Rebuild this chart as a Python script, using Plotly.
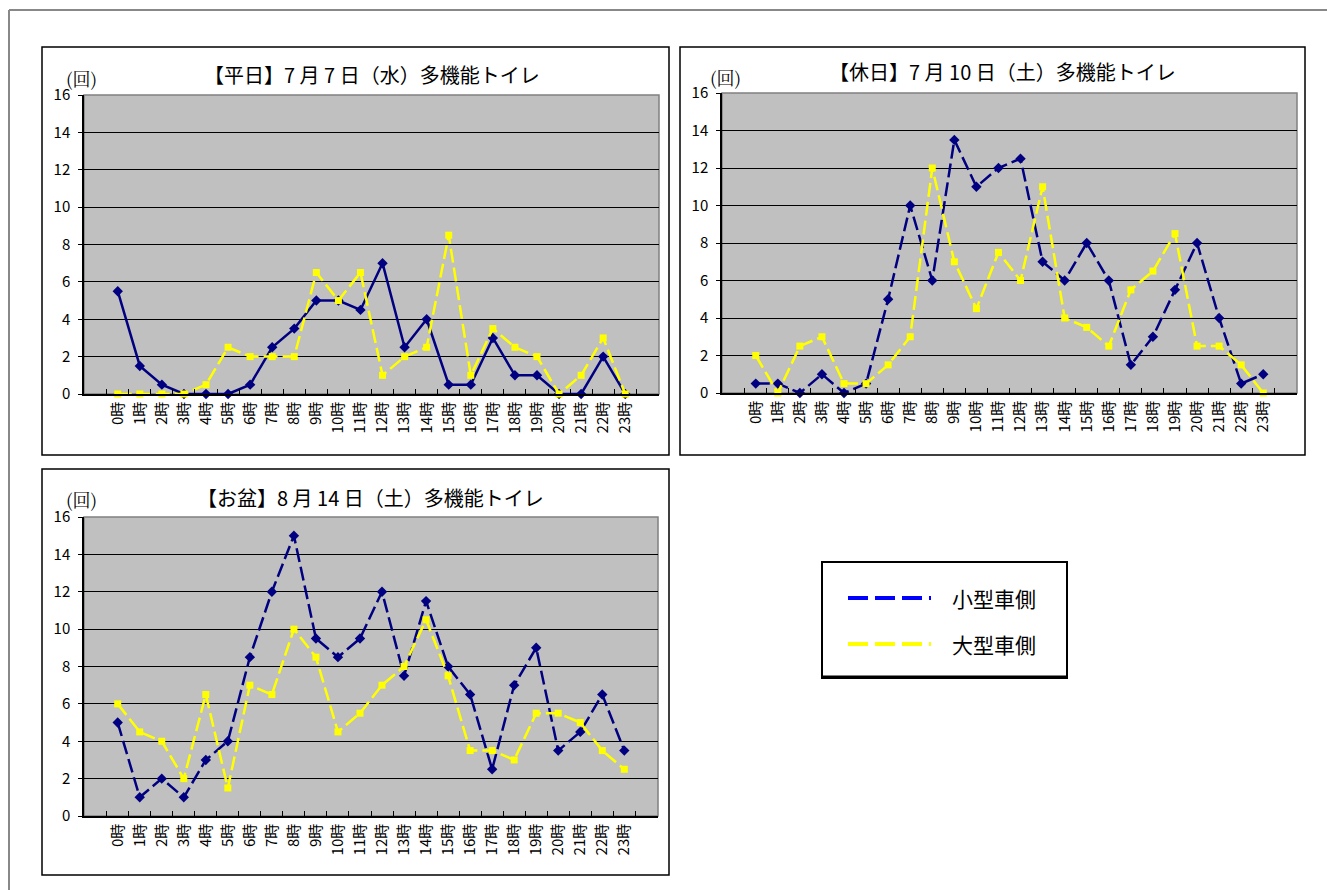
import plotly.graph_objects as go

W, H = 1327, 890

hours = [f"{h}時" for h in range(24)]

# 【平日】7月7日（水）
weekday_small = [5.5, 1.5, 0.5, 0, 0, 0, 0.5, 2.5, 3.5, 5, 5, 4.5, 7, 2.5, 4, 0.5, 0.5, 3, 1, 1, 0, 0, 2, 0]
weekday_large = [0, 0, 0, 0, 0.5, 2.5, 2, 2, 2, 6.5, 5, 6.5, 1, 2, 2.5, 8.5, 1, 3.5, 2.5, 2, 0, 1, 3, 0]

# 【休日】7月10日（土）
holiday_small = [0.5, 0.5, 0, 1, 0, 0.5, 5, 10, 6, 13.5, 11, 12, 12.5, 7, 6, 8, 6, 1.5, 3, 5.5, 8, 4, 0.5, 1]
holiday_large = [2, 0, 2.5, 3, 0.5, 0.5, 1.5, 3, 12, 7, 4.5, 7.5, 6, 11, 4, 3.5, 2.5, 5.5, 6.5, 8.5, 2.5, 2.5, 1.5, 0]

# 【お盆】8月14日（土）
obon_small = [5, 1, 2, 1, 3, 4, 8.5, 12, 15, 9.5, 8.5, 9.5, 12, 7.5, 11.5, 8, 6.5, 2.5, 7, 9, 3.5, 4.5, 6.5, 3.5]
obon_large = [6, 4.5, 4, 2, 6.5, 1.5, 7, 6.5, 10, 8.5, 4.5, 5.5, 7, 8, 10.5, 7.5, 3.5, 3.5, 3, 5.5, 5.5, 5, 3.5, 2.5]

titles = [
    "【平日】7 月 7 日（水）多機能トイレ",
    "【休日】7 月 10 日（土）多機能トイレ",
    "【お盆】8 月 14 日（土）多機能トイレ",
]
series_names = ["小型車側", "大型車側"]
unit_label = "(回)"

NAVY = "#000080"
YELLOW = "#FFFF00"
FONT = "Noto Sans CJK JP"
DASH = "14px,5px"


def fx(px):
    return px / W


def fy(py):
    return 1 - py / H


# panel geometry in pixels: frame box and plot area
panels = [
    dict(frame=(42, 47, 669, 455), plot=(84, 95, 659, 394), title_xy=(372, 75), unit_xy=(64, 78),
         small=weekday_small, large=weekday_large, small_dash="solid"),
    dict(frame=(680, 47, 1305, 455), plot=(722, 93, 1297, 393), title_xy=(1003, 72), unit_xy=(708, 77),
         small=holiday_small, large=holiday_large, small_dash=DASH),
    dict(frame=(42, 469, 669, 875), plot=(84, 517, 658, 816), title_xy=(370, 497), unit_xy=(64, 499),
         small=obon_small, large=obon_large, small_dash=DASH),
]

fig = go.Figure()
shapes = []
annotations = []

for i, p in enumerate(panels):
    n = "" if i == 0 else str(i + 1)
    xa, ya = f"x{n}", f"y{n}"
    x0, y0, x1, y1 = p["plot"]

    fig.add_trace(go.Scatter(
        x=hours, y=p["small"], xaxis=xa, yaxis=ya, mode="lines+markers",
        name=series_names[0], showlegend=False, cliponaxis=False,
        line=dict(color=NAVY, width=2.5, dash=p["small_dash"]),
        marker=dict(symbol="diamond", size=8, color=NAVY),
    ))
    fig.add_trace(go.Scatter(
        x=hours, y=p["large"], xaxis=xa, yaxis=ya, mode="lines+markers",
        name=series_names[1], showlegend=False, cliponaxis=False,
        line=dict(color=YELLOW, width=2.5, dash=DASH),
        marker=dict(symbol="square", size=7, color=YELLOW),
    ))

    fig.update_layout(**{
        f"xaxis{n}": dict(
            domain=[fx(x0), fx(x1)], anchor=ya, type="category",
            categoryorder="array", categoryarray=hours,
            tickson="boundaries", ticks="inside", ticklen=5, tickcolor="black",
            tickangle=-90, tickfont=dict(family=FONT, size=15, color="black"),
            showline=True, linecolor="black", linewidth=1.5,
            showgrid=False, zeroline=False, fixedrange=True, automargin=False,
        ),
        f"yaxis{n}": dict(
            domain=[fy(y1), fy(y0)], anchor=xa, range=[0, 16], dtick=2,
            ticks="outside", ticklen=4, tickcolor="black", ticklabelstandoff=5,
            tickfont=dict(family=FONT, size=15, color="black"),
            showline=True, linecolor="black", linewidth=1.5,
            showgrid=True, gridcolor="black", gridwidth=1,
            zeroline=False, fixedrange=True, automargin=False,
        ),
    })

    # light border around the plot area
    shapes.append(dict(type="rect", xref="paper", yref="paper",
                       x0=fx(x0), x1=fx(x1), y0=fy(y1), y1=fy(y0),
                       line=dict(color="#808080", width=1.5), layer="below"))
    # chart frame
    fx0, fy0, fx1, fy1 = p["frame"]
    shapes.append(dict(type="rect", xref="paper", yref="paper",
                       x0=fx(fx0), x1=fx(fx1), y0=fy(fy1), y1=fy(fy0),
                       line=dict(color="black", width=1.5)))

    tx, ty = p["title_xy"]
    annotations.append(dict(text=titles[i], xref="paper", yref="paper",
                            x=fx(tx), y=fy(ty), xanchor="center", yanchor="middle",
                            showarrow=False, font=dict(family=FONT, size=20, color="black")))
    ux, uy = p["unit_xy"]
    annotations.append(dict(text=unit_label, xref="paper", yref="paper",
                            x=fx(ux), y=fy(uy), xanchor="left", yanchor="middle",
                            showarrow=False,
                            font=dict(family="Noto Serif CJK JP, DejaVu Serif, serif",
                                      size=18, color="black")))

# outer page border (top and left)
shapes.append(dict(type="line", xref="paper", yref="paper", x0=fx(9), x1=1, y0=fy(10), y1=fy(10),
                   line=dict(color="#888888", width=2)))
shapes.append(dict(type="line", xref="paper", yref="paper", x0=fx(9), x1=fx(9), y0=0, y1=fy(10),
                   line=dict(color="#888888", width=2)))

# legend box
shapes.append(dict(type="rect", xref="paper", yref="paper",
                   x0=fx(822), x1=fx(1067), y0=fy(678), y1=fy(562),
                   fillcolor="white", line=dict(color="black", width=2)))
shapes.append(dict(type="line", xref="paper", yref="paper",
                   x0=fx(822), x1=fx(1068), y0=fy(677), y1=fy(677),
                   line=dict(color="black", width=3)))
legend_colors = ["#0000FF", YELLOW]
legend_y = [598, 644]
for name, col, ly in zip(series_names, legend_colors, legend_y):
    shapes.append(dict(type="line", xref="paper", yref="paper",
                       x0=fx(848), x1=fx(931), y0=fy(ly), y1=fy(ly),
                       line=dict(color=col, width=4, dash="20px,7px")))
    annotations.append(dict(text=name, xref="paper", yref="paper",
                            x=fx(950), y=fy(ly), xanchor="left", yanchor="middle",
                            showarrow=False, font=dict(family=FONT, size=21, color="black")))

fig.update_layout(
    width=W, height=H,
    margin=dict(l=0, r=0, t=0, b=0, pad=0, autoexpand=False),
    paper_bgcolor="white", plot_bgcolor="#C0C0C0",
    showlegend=False,
    shapes=shapes, annotations=annotations,
    font=dict(family=FONT, color="black"),
)

fig.write_html("out.html")
